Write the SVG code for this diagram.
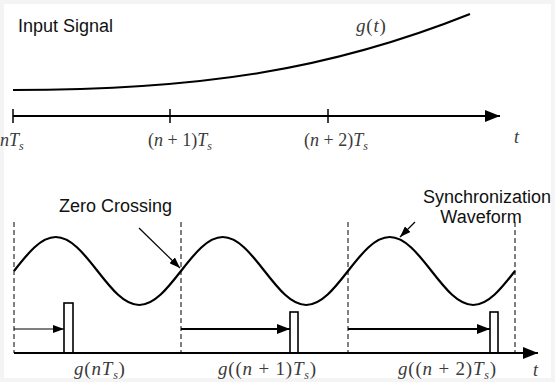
<svg xmlns="http://www.w3.org/2000/svg" width="555" height="382" viewBox="0 0 555 382">
<defs>
<marker id="ahBig" markerWidth="15" markerHeight="12" refX="15" refY="6" orient="auto" markerUnits="userSpaceOnUse"><path d="M0,0 L15,6 L0,12 Z" fill="#000"/></marker>
<marker id="ahMid" markerWidth="13" markerHeight="10" refX="13" refY="5" orient="auto" markerUnits="userSpaceOnUse"><path d="M0,0 L13,5 L0,10 Z" fill="#000"/></marker>
<marker id="ahSmall" markerWidth="11" markerHeight="8" refX="11" refY="4" orient="auto" markerUnits="userSpaceOnUse"><path d="M0,0 L11,4 L0,8 Z" fill="#000"/></marker>
</defs>
<style>
.lbl{font-family:"Liberation Sans",Arial,sans-serif;font-size:18px;fill:#111}
.math{font-family:"Liberation Serif","Times New Roman",serif;font-size:18px;fill:#3a3a3a;font-style:italic}
.big{font-size:19px;letter-spacing:0.8px}
.up{font-style:normal}
.sub{font-size:12px}
.axis{stroke:#000;stroke-width:2;fill:none}
.tick{stroke:#000;stroke-width:1.5}
.curve{stroke:#000;stroke-width:2.2;fill:none}
.dash{stroke:#000;stroke-width:1;stroke-dasharray:5,3;fill:none}
.pulse{fill:#fff;stroke:#000;stroke-width:1.6}
.thin{stroke:#000;stroke-width:1.2;fill:none}
.thick{stroke:#000;stroke-width:2;fill:none}
</style>
<rect x="0" y="0" width="555" height="382" fill="#f4f4f4"/>
<rect x="4" y="4" width="547" height="374" fill="#ffffff"/>

<g id="input-signal">
<text class="lbl" x="18" y="32">Input Signal</text>
<path class="curve" d="M13,90 C200,90 330,70 470,14"/>
<text class="math big" x="356" y="32">g<tspan class="up">(</tspan>t<tspan class="up">)</tspan></text>
</g>

<g id="top-axis">
<line class="axis" x1="13" y1="116" x2="500" y2="116" marker-end="url(#ahBig)"/>
<line class="tick" x1="13" y1="109" x2="13" y2="123"/>
<line class="tick" x1="170" y1="109" x2="170" y2="123"/>
<line class="tick" x1="328" y1="109" x2="328" y2="123"/>
<text class="math" x="0" y="146">nT<tspan class="sub" dy="4">s</tspan></text>
<text class="math" x="148" y="146"><tspan class="up">(</tspan>n<tspan class="up"> + 1)</tspan>T<tspan class="sub" dy="4">s</tspan></text>
<text class="math" x="304" y="146"><tspan class="up">(</tspan>n<tspan class="up"> + 2)</tspan>T<tspan class="sub" dy="4">s</tspan></text>
<text class="math" x="514" y="143">t</text>
</g>

<g id="sync-waveform">
<path class="curve" d="M14,271 C27.62,253.58 40.64,237 55.75,237 S83.88,253.58 97.5,271 S124.14,305 139.25,305 S167.38,288.42 181,271 S207.64,237 222.75,237 S250.88,253.58 264.5,271 S291.14,305 306.25,305 S334.38,288.42 348,271 S374.64,237 389.75,237 S417.88,253.58 431.5,271 S458.14,305 473.25,305 S501.38,288.42 515,271"/>
</g>

<g id="dashed-markers">
<line class="dash" x1="14" y1="222" x2="14" y2="353"/>
<line class="dash" x1="181" y1="222" x2="181" y2="353"/>
<line class="dash" x1="348" y1="222" x2="348" y2="353"/>
<line class="dash" x1="515" y1="222" x2="515" y2="353"/>
</g>

<g id="zero-crossing">
<text class="lbl" x="59" y="212">Zero Crossing</text>
</g>

<g id="sync-label">
<text class="lbl" x="487" y="203" text-anchor="middle">Synchronization</text>
<text class="lbl" x="481" y="223" text-anchor="middle">Waveform</text>
</g>

<g id="pulses">
<rect class="pulse" x="64" y="303" width="9" height="50"/>
<rect class="pulse" x="290" y="312" width="8" height="41"/>
<rect class="pulse" x="490" y="312" width="8" height="41"/>
</g>

<g id="bottom-axis">
<line class="axis" x1="14" y1="353" x2="538" y2="353" marker-end="url(#ahBig)"/>
<text class="math big" x="74" y="375">g<tspan class="up">(</tspan>nT<tspan class="sub" dy="4">s</tspan><tspan class="up" dy="-4">)</tspan></text>
<text class="math big" x="218" y="375">g<tspan class="up">((</tspan>n<tspan class="up"> + 1)</tspan>T<tspan class="sub" dy="4">s</tspan><tspan class="up" dy="-4">)</tspan></text>
<text class="math big" x="398" y="375">g<tspan class="up">((</tspan>n<tspan class="up"> + 2)</tspan>T<tspan class="sub" dy="4">s</tspan><tspan class="up" dy="-4">)</tspan></text>
<text class="math" x="533" y="376">t</text>
</g>

<g id="connectors">
<line class="thin" x1="14" y1="329" x2="64" y2="329" marker-end="url(#ahSmall)"/>
<line class="thick" x1="181" y1="329" x2="290" y2="329" marker-end="url(#ahMid)"/>
<line class="thick" x1="348" y1="329" x2="490" y2="329" marker-end="url(#ahMid)"/>
<line class="thin" x1="139" y1="228" x2="180" y2="268" marker-end="url(#ahSmall)"/>
<line class="thin" x1="415" y1="222" x2="400" y2="237" marker-end="url(#ahSmall)"/>
</g>
</svg>
